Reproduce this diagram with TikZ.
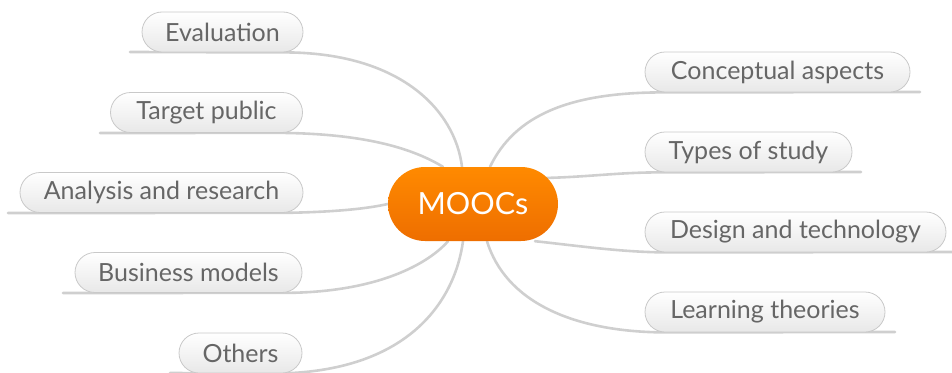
\documentclass[tikz,border=0pt]{standalone}
\usepackage{fontspec}
\setmainfont{Lato}
\usetikzlibrary{shapes.misc,backgrounds}
\definecolor{linegray}{HTML}{CFCFCF}
\definecolor{pillborder}{HTML}{C9C9C9}
\definecolor{txtgray}{HTML}{666666}
\definecolor{orangetop}{HTML}{FF8A00}
\definecolor{orangebot}{HTML}{EE6E00}
\tikzset{
  pill/.style={rounded rectangle, draw=pillborder, line width=0.8pt,
    top color=white, bottom color=black!9, text=txtgray,
    minimum height=40pt, inner sep=0pt, font=\fontsize{25}{28}\selectfont},
  hub/.style={rounded rectangle, draw=none, top color=orangetop, bottom color=orangebot,
    text=white, minimum height=74pt, minimum width=170pt, inner sep=0pt,
    font=\fontsize{30.5}{34}\selectfont},
  branch/.style={draw=linegray, line width=2.6pt, line cap=round}
}
\begin{document}
\begin{tikzpicture}[x=1pt,y=-1pt]
\useasboundingbox (0,0) rectangle (952,372);
\node[hub] (m) at (473,204) {MOOCs};
% left nodes
\node[pill, minimum width=161pt] (ev) at (222.5,32) {Evaluation};
\node[pill, minimum width=192pt] (tp) at (206.5,112.5) {Target public};
\node[pill, minimum width=283pt] (ar) at (161.5,192.5) {Analysis and research};
\node[pill, minimum width=227pt] (bm) at (188.5,272.5) {Business models};
\node[pill, minimum width=123pt] (ot) at (240.5,353) {Others};
% right nodes
\node[pill, minimum width=265pt] (ca) at (777.5,72) {Conceptual aspects};
\node[pill, minimum width=207pt] (ts) at (748.5,152) {Types of study};
\node[pill, minimum width=301pt] (dt) at (795.5,232) {Design and technology};
\node[pill, minimum width=240pt] (lt) at (765,312) {Learning theories};
% free ends of underlines
\coordinate (ev0) at (130,52);
\coordinate (tp0) at (100,133);
\coordinate (ar0) at (8,213);
\coordinate (bm0) at (63,293);
\coordinate (ot0) at (170,373);
\coordinate (ca1) at (920,92);
\coordinate (ts1) at (861,172);
\coordinate (dt1) at (955,252);
\coordinate (lt1) at (895,332);
\begin{pgfonlayer}{background}
\draw[branch] (ev0) -- (ev.south east) .. controls (400,52) and (455,110) .. ([xshift=-11pt]m.north);
\draw[branch] (tp0) -- (tp.south east) .. controls (370,134) and (415,150) .. ([xshift=-30pt]m.north);
\draw[branch] (ar0) -- (ar.south east) .. controls (340,212) and (370,208) .. (m.west);
\draw[branch] (bm0) -- (bm.south east) .. controls (380,293) and (430,262) .. ([xshift=-25pt]m.south);
\draw[branch] (ot0) -- (ot.south east) .. controls (410,370) and (455,300) .. ([xshift=-10pt]m.south);
\draw[branch] ([xshift=17pt]m.north) .. controls (515,115) and (570,92) .. (ca.south west) -- (ca1);
\draw[branch] ([xshift=-15pt,yshift=26pt]m.east) .. controls (590,177) and (620,172) .. (ts.south west) -- (ts1);
\draw[branch] ([xshift=62pt]m.south) .. controls (580,246) and (620,252) .. (dt.south west) -- (dt1);
\draw[branch] ([xshift=14pt]m.south) .. controls (505,300) and (570,332) .. (lt.south west) -- (lt1);
\end{pgfonlayer}
\end{tikzpicture}
\end{document}
